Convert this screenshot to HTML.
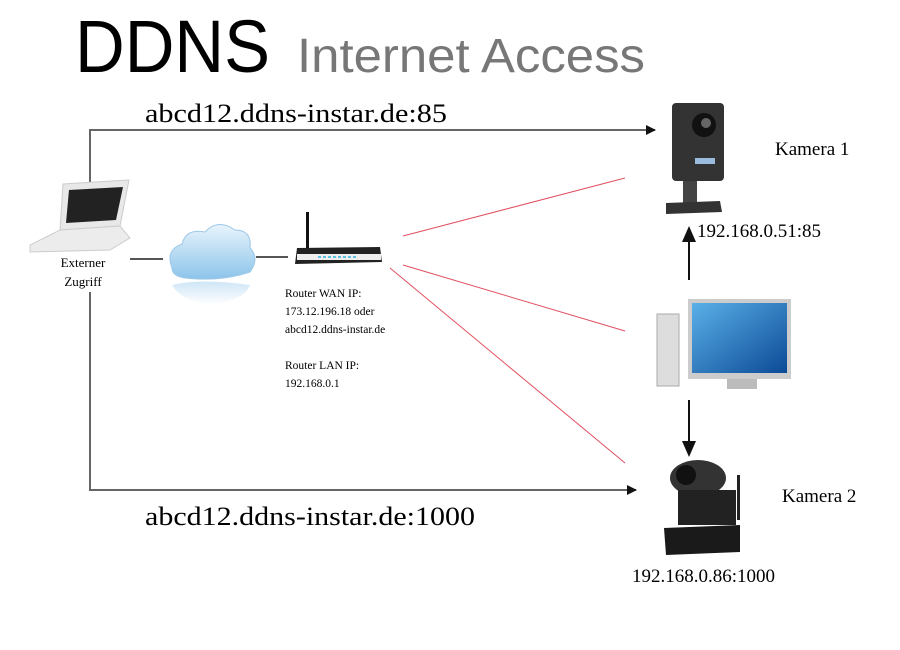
<!DOCTYPE html>
<html><head><meta charset="utf-8"><style>html,body{margin:0;padding:0;background:#fff}svg{display:block}</style></head>
<body>
<svg width="900" height="650" viewBox="0 0 900 650" xmlns="http://www.w3.org/2000/svg">
<defs>
<marker id="ah" markerWidth="10" markerHeight="10" refX="9" refY="5" orient="auto" markerUnits="userSpaceOnUse"><path d="M0,0 L10,5 L0,10 z" fill="#111"/></marker>
<marker id="ah2" markerWidth="16" markerHeight="14" refX="14" refY="7" orient="auto" markerUnits="userSpaceOnUse"><path d="M0,0 L16,7 L0,14 z" fill="#111"/></marker>
<linearGradient id="cl" x1="0" y1="0" x2="0" y2="1"><stop offset="0" stop-color="#e8f4fc"/><stop offset="1" stop-color="#8cc4ea"/></linearGradient>
<linearGradient id="cl2" x1="0" y1="0" x2="0" y2="1"><stop offset="0" stop-color="#cfe6f6"/><stop offset="1" stop-color="#fff"/></linearGradient>
<linearGradient id="scr" x1="0" y1="0" x2="1" y2="1"><stop offset="0" stop-color="#5ab0e8"/><stop offset="1" stop-color="#0c4a96"/></linearGradient>
</defs>
<text x="75" y="72" font-family="Liberation Sans, sans-serif" font-size="74" fill="#000" textLength="195" lengthAdjust="spacingAndGlyphs">DDNS</text>
<text x="297" y="72" font-family="Liberation Sans, sans-serif" font-size="48" fill="#777" textLength="348" lengthAdjust="spacingAndGlyphs">Internet Access</text>
<g font-family="Liberation Serif, serif" fill="#000">
<text x="145" y="122" font-size="26" textLength="302" lengthAdjust="spacingAndGlyphs">abcd12.ddns-instar.de:85</text>
<text x="145" y="525" font-size="26" textLength="330" lengthAdjust="spacingAndGlyphs">abcd12.ddns-instar.de:1000</text>
<text x="83" y="267" font-size="13" text-anchor="middle">Externer</text>
<text x="83" y="286" font-size="13" text-anchor="middle">Zugriff</text>
<text x="212" y="262" font-size="13" text-anchor="middle">Internet</text>
<g font-size="11.5"><text x="285" y="297">Router WAN IP:</text><text x="285" y="315">173.12.196.18  oder</text><text x="285" y="333">abcd12.ddns-instar.de</text><text x="285" y="369">Router LAN IP:</text><text x="285" y="387">192.168.0.1</text></g>
<text x="775" y="155" font-size="19">Kamera 1</text>
<text x="782" y="502" font-size="19">Kamera 2</text>
<text x="697" y="237" font-size="19">192.168.0.51:85</text>
<text x="632" y="582" font-size="19">192.168.0.86:1000</text>
</g>
<g stroke="#777" stroke-width="2" fill="none">
<polyline points="90,182 90,130 655,130" stroke="#666" marker-end="url(#ah)"/>
<polyline points="90,292 90,490 636,490" stroke="#666" marker-end="url(#ah)"/>
<line x1="130" y1="259" x2="163" y2="259" stroke="#555"/>
<line x1="256" y1="257" x2="288" y2="257" stroke="#555"/>
</g>
<g stroke="#e05060" stroke-width="1">
<line x1="403" y1="236" x2="625" y2="178"/>
<line x1="403" y1="265" x2="625" y2="331"/>
<line x1="390" y1="268" x2="625" y2="463"/>
</g>
<g stroke="#111" stroke-width="2">
<line x1="689" y1="280" x2="689" y2="228" marker-end="url(#ah2)"/>
<line x1="689" y1="400" x2="689" y2="455" marker-end="url(#ah2)"/>
</g>
<path d="M63,184 L129,180 L120,226 L60,230 z" fill="#e8e8e8" stroke="#ccc"/>
<path d="M69,190 L123,187 L116,220 L66,223 z" fill="#222"/>
<path d="M60,230 L120,226 L130,238 L110,250 L30,252 L30,245 z" fill="#ececec" stroke="#ccc"/>
<path d="M172,268 Q165,250 182,244 Q186,228 205,232 Q218,218 235,230 Q252,230 250,248 Q260,258 250,272 Q220,282 185,278 Q172,276 172,268 z" fill="url(#cl)" stroke="#9cc8e8"/>
<path d="M172,285 Q200,278 250,285 Q245,300 210,305 Q180,300 172,285 z" fill="url(#cl2)"/>
<rect x="306" y="212" width="3" height="38" fill="#111"/>
<path d="M297,248 L380,247 L382,262 L295,264 z" fill="#222"/>
<rect x="297" y="254" width="84" height="6" fill="#eee"/>
<line x1="318" y1="257" x2="356" y2="257" stroke="#2ab0e0" stroke-width="1.5" stroke-dasharray="3,2"/>
<rect x="672" y="103" width="52" height="78" rx="4" fill="#333"/>
<circle cx="704" cy="125" r="12" fill="#111"/><circle cx="706" cy="123" r="5" fill="#666"/>
<rect x="695" y="158" width="20" height="6" fill="#9bd"/>
<rect x="683" y="181" width="14" height="22" fill="#444"/>
<path d="M666,203 L720,201 L722,212 L666,214 z" fill="#333"/>
<rect x="657" y="314" width="22" height="72" fill="#ddd" stroke="#aaa"/>
<rect x="688" y="299" width="103" height="80" fill="#ccc"/>
<rect x="692" y="303" width="95" height="70" fill="url(#scr)"/>
<rect x="727" y="379" width="30" height="10" fill="#bbb"/>
<ellipse cx="698" cy="478" rx="28" ry="18" fill="#333"/>
<circle cx="686" cy="475" r="10" fill="#111"/>
<rect x="678" y="490" width="58" height="35" fill="#222"/>
<rect x="737" y="475" width="3" height="45" fill="#222"/>
<path d="M664,528 L740,525 L740,552 L666,555 z" fill="#1a1a1a"/>
</svg>
</body></html>
